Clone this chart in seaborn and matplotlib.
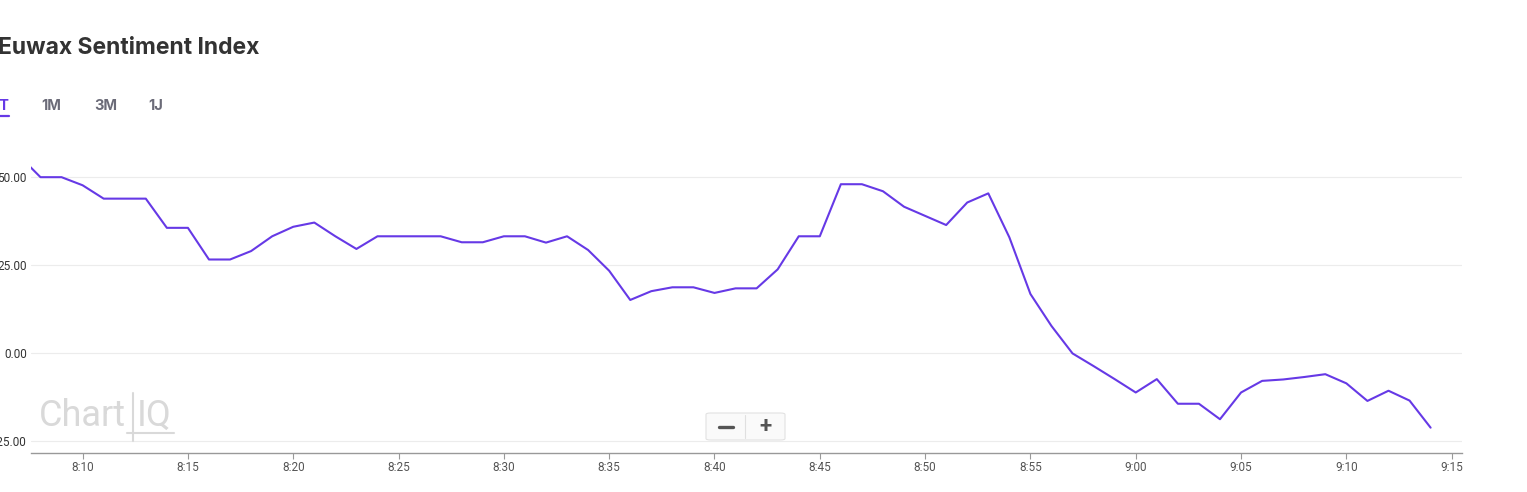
import numpy as np
import pandas as pd
import seaborn as sns
import matplotlib.pyplot as plt
from matplotlib.patches import FancyBboxPatch
from matplotlib.lines import Line2D

# minutes after 8:00, one point per minute from 8:07 to 9:14
minutes = list(range(7, 75))
sentiment = [56.0, 50.0, 50.0, 47.7, 43.9, 43.9, 43.9, 35.6, 35.6, 26.6,
             26.6, 29.0, 33.2, 35.9, 37.1, 33.2, 29.6, 33.2, 33.2, 33.2,
             33.2, 31.5, 31.5, 33.2, 33.2, 31.4, 33.2, 29.3, 23.4, 15.1,
             17.6, 18.7, 18.7, 17.1, 18.4, 18.4, 23.8, 33.2, 33.2, 48.0,
             48.0, 46.0, 41.6, 39.0, 36.4, 42.8, 45.4, 32.9, 16.8, 7.7,
             -0.1, -3.7, -7.4, -11.2, -7.4, -14.4, -14.4, -18.8, -11.2, -7.9,
             -7.5, -6.8, -6.0, -8.6, -13.6, -10.7, -13.5, -21.2]

xtick_pos = list(range(10, 80, 5))
xtick_labels = ["8:10", "8:15", "8:20", "8:25", "8:30", "8:35", "8:40",
                "8:45", "8:50", "8:55", "9:00", "9:05", "9:10", "9:15"]
ytick_pos = [-25, 0, 25, 50]
ytick_labels = ["-25.00", "0.00", "25.00", "50.00"]
tabs = ["1T", "1M", "3M", "1J"]

df = pd.DataFrame({"min": minutes, "val": sentiment})

sns.set_theme(style="white")
plt.rcParams["font.family"] = ["Roboto", "DejaVu Sans"]

W, H = 1527, 492
fig = plt.figure(figsize=(W / 100, H / 100), dpi=100)
ax = fig.add_axes([31 / W, 1 - 453 / H, (1462 - 31) / W, (453 - 142) / H])

def px(x, y):
    return x / W, 1 - y / H

sns.lineplot(data=df, x="min", y="val", ax=ax, color="#6639e6", linewidth=1.5)

ax.set_xlim(7.55, 75.49)
ax.set_ylim(-28.4, 60)
ax.set_xticks(xtick_pos)
ax.set_xticklabels(xtick_labels, fontsize=8.5, color="#555555")
ax.set_yticks(ytick_pos)
ax.set_yticklabels(ytick_labels, fontsize=8.5, color="#333333")
ax.set_xlabel("")
ax.set_ylabel("")
ax.grid(axis="y", color="#ececec", linewidth=0.8)
ax.grid(axis="x", visible=False)
for s in ["top", "right", "left"]:
    ax.spines[s].set_visible(False)
ax.spines["bottom"].set_color("#999999")
ax.spines["bottom"].set_linewidth(1)
ax.tick_params(axis="x", bottom=True, length=4, width=0.8, color="#999999", pad=2)
ax.tick_params(axis="y", left=False, length=0, pad=3)

# title and period tabs
fig.text(*px(-2, 54), "Euwax Sentiment Index", fontsize=16.5, fontweight="bold",
         color="#333333", family=["Inter", "DejaVu Sans"], va="baseline", ha="left")
tab_x = [9, 41, 94, 148]
for i, t in enumerate(tabs):
    fig.text(*px(tab_x[i], 110), t, fontsize=10.5, fontweight="bold",
             color="#6639e6" if i == 0 else "#6b6b78",
             family=["Inter", "DejaVu Sans"], va="baseline",
             ha="right" if i == 0 else "left")
fig.add_artist(Line2D([0, 9 / W], [1 - 116 / H] * 2, color="#6639e6", linewidth=1.6))

# ChartIQ watermark
fig.text(*px(39, 426), "Chart", fontsize=26, color="#d9d9d9",
         va="baseline", ha="left")
fig.text(*px(137, 426), "IQ", fontsize=26, color="#d9d9d9",
         va="baseline", ha="left")
fig.add_artist(Line2D([133 / W] * 2, [1 - 393 / H, 1 - 441 / H], color="#d9d9d9", linewidth=1.5))
fig.add_artist(Line2D([127 / W, 174 / W], [1 - 433 / H] * 2, color="#d9d9d9", linewidth=1.5))

# zoom buttons
box = FancyBboxPatch(px(706, 440), 79 / W, 27 / H, boxstyle="round,pad=0,rounding_size=0.003",
                     transform=fig.transFigure, facecolor="#fafafa", edgecolor="#e2e2e2",
                     linewidth=0.8, zorder=5)
fig.add_artist(box)
fig.add_artist(Line2D([745 / W] * 2, [1 - 415 / H, 1 - 438 / H], color="#e0e0e0", linewidth=0.8, zorder=6))
fig.add_artist(Line2D([719 / W, 733 / W], [1 - 427 / H] * 2, color="#555555", linewidth=2.4, zorder=7))
fig.text(*px(765, 427), "+", fontsize=16, fontweight="bold", color="#555555",
         ha="center", va="center", zorder=7)

fig.savefig("out.png", dpi=100)
